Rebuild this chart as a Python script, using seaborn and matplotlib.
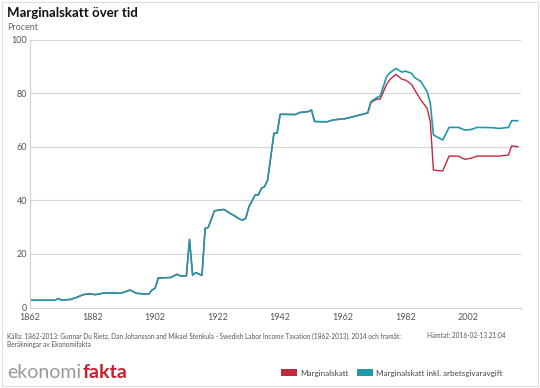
import pandas as pd
import seaborn as sns
import matplotlib.pyplot as plt
from matplotlib.patches import Patch, Rectangle

# Years up to 1970: both series identical
years_early = [1862, 1870, 1871, 1872, 1875, 1877, 1879, 1881, 1883, 1886,
               1891, 1894, 1896, 1899, 1900, 1901, 1902, 1903, 1907, 1909,
               1910, 1912, 1913, 1914, 1915, 1917, 1918, 1919, 1921, 1924,
               1926, 1927, 1929, 1930, 1931, 1932, 1934, 1935, 1936, 1937,
               1938, 1939, 1940, 1941, 1942, 1947, 1948, 1951, 1952, 1953,
               1957, 1959, 1963, 1966, 1970]
values_early = [2.7, 2.7, 3.3, 2.8, 3.0, 3.8, 4.8, 5.1, 4.8, 5.5,
                5.3, 6.5, 5.3, 5.0, 5.0, 6.5, 7.2, 11.0, 11.2, 12.4,
                11.8, 11.8, 25.4, 12.1, 13.0, 12.0, 29.5, 29.9, 36.1, 36.6,
                35.1, 34.5, 33.0, 32.6, 33.3, 37.6, 42.0, 42.0, 44.5, 45.1,
                47.6, 56.3, 65.0, 65.0, 72.1, 72.0, 72.7, 73.1, 73.7, 69.4,
                69.3, 70.0, 70.5, 71.4, 72.6]

years_late = [1971, 1973, 1974, 1976, 1977, 1979, 1981, 1982, 1984, 1985,
              1987, 1989, 1990, 1991, 1993, 1994, 1996, 1999, 2001, 2003,
              2005, 2010, 2012, 2015, 2016, 2018]
inkl_late = [76.8, 78.4, 78.9, 86.1, 87.5, 89.2, 87.8, 88.2, 87.4, 85.8,
             84.3, 80.5, 76.2, 64.4, 63.1, 62.5, 67.2, 67.2, 66.2, 66.4,
             67.2, 67.1, 66.8, 67.2, 69.7, 69.7]
marg_late = [76.5, 77.8, 77.8, 83.2, 85.0, 87.0, 85.1, 84.9, 83.3, 81.2,
             77.4, 74.3, 69.3, 51.3, 51.0, 51.0, 56.5, 56.5, 55.3, 55.7,
             56.5, 56.5, 56.5, 56.9, 60.3, 60.0]

s_marg = "Marginalskatt"
s_inkl = "Marginalskatt inkl. arbetsgivaravgift"
colors = {s_marg: "#c1283e", s_inkl: "#1f98a8"}
xticks = [1862, 1882, 1902, 1922, 1942, 1962, 1982, 2002]
yticks = [0, 20, 40, 60, 80, 100]

years = years_early + years_late
df = pd.concat([
    pd.DataFrame({"year": years, "value": values_early + marg_late, "serie": s_marg}),
    pd.DataFrame({"year": years, "value": values_early + inkl_late, "serie": s_inkl}),
])

sns.set_style("white")
plt.rcParams["font.family"] = ["Lato", "DejaVu Sans"]

fig = plt.figure(figsize=(5.4, 3.88), dpi=100)
ax = fig.add_axes([30 / 540, 1 - 307.5 / 388, 491 / 540, 268 / 388])

sns.lineplot(data=df, x="year", y="value", hue="serie", hue_order=[s_marg, s_inkl],
             palette=colors, linewidth=1.2, legend=False, ax=ax)
# red line slightly thinner so it hides fully under the teal one where they coincide
ax.lines[0].set_linewidth(1.0)

ax.set_xlim(1862, 2019)
ax.set_ylim(0, 100)
ax.set_xticks(xticks)
ax.set_yticks(yticks)
ax.set_xlabel("")
ax.set_ylabel("")
for y in yticks[1:]:
    ax.axhline(y, color="#d6d6d6", lw=0.8, zorder=0)
for side in ["top", "right"]:
    ax.spines[side].set_visible(False)
for side in ["left", "bottom"]:
    ax.spines[side].set_color("#d0d0d0")
    ax.spines[side].set_linewidth(0.8)
ax.tick_params(axis="x", direction="in", length=3, color="#c8c8c8", labelsize=6.5,
               labelcolor="#555555", pad=4)
ax.tick_params(axis="y", length=0, labelsize=6.5, labelcolor="#555555", pad=2)

fig.text(7 / 540, 1 - 13 / 388, "Marginalskatt över tid", fontsize=9.5,
         fontweight="bold", va="center", color="#111111")
fig.text(7 / 540, 1 - 27 / 388, "Procent", fontsize=6.5, va="center", color="#666666")

fig.text(7 / 540, 1 - 336 / 388,
         "Källa: 1862-2013: Gunnar Du Rietz, Dan Johansson and Mikael Stenkula - "
         "Swedish Labor Income Taxation (1862-2013). 2014 och framåt:",
         fontsize=4.7, va="center", color="#555555")
fig.text(7 / 540, 1 - 344.5 / 388, "Beräkningar av Ekonomifakta",
         fontsize=4.7, va="center", color="#555555")
fig.text(427 / 540, 1 - 336 / 388, "Hämtat: 2016-02-13 21:04",
         fontsize=4.7, va="center", color="#555555")

# logo
t1 = fig.text(7 / 540, 1 - 373 / 388, "ekonomi", fontsize=14, va="center",
              color="#9a9a9a")
fig.canvas.draw()
bb = t1.get_window_extent()
fig.text(bb.x1 / 540 + 0.002, 1 - 373 / 388, "fakta", fontsize=14, va="center",
         fontweight="bold", color="#c8202f")

handles = [Patch(facecolor=colors[s_marg], edgecolor="none"),
           Patch(facecolor=colors[s_inkl], edgecolor="none")]
fig.legend(handles, [s_marg, s_inkl], loc="center right", ncol=2,
           bbox_to_anchor=(510 / 540, 1 - 373 / 388), frameon=False, fontsize=5.8,
           handlelength=2.0, handleheight=0.9, handletextpad=0.4, columnspacing=1.0,
           labelcolor="#444444")

fig.patches.append(Rectangle((0.004, 0.004), 0.992, 0.99, transform=fig.transFigure,
                             fill=False, edgecolor="#dddddd", lw=0.8))

fig.savefig("out.png", dpi=100)
